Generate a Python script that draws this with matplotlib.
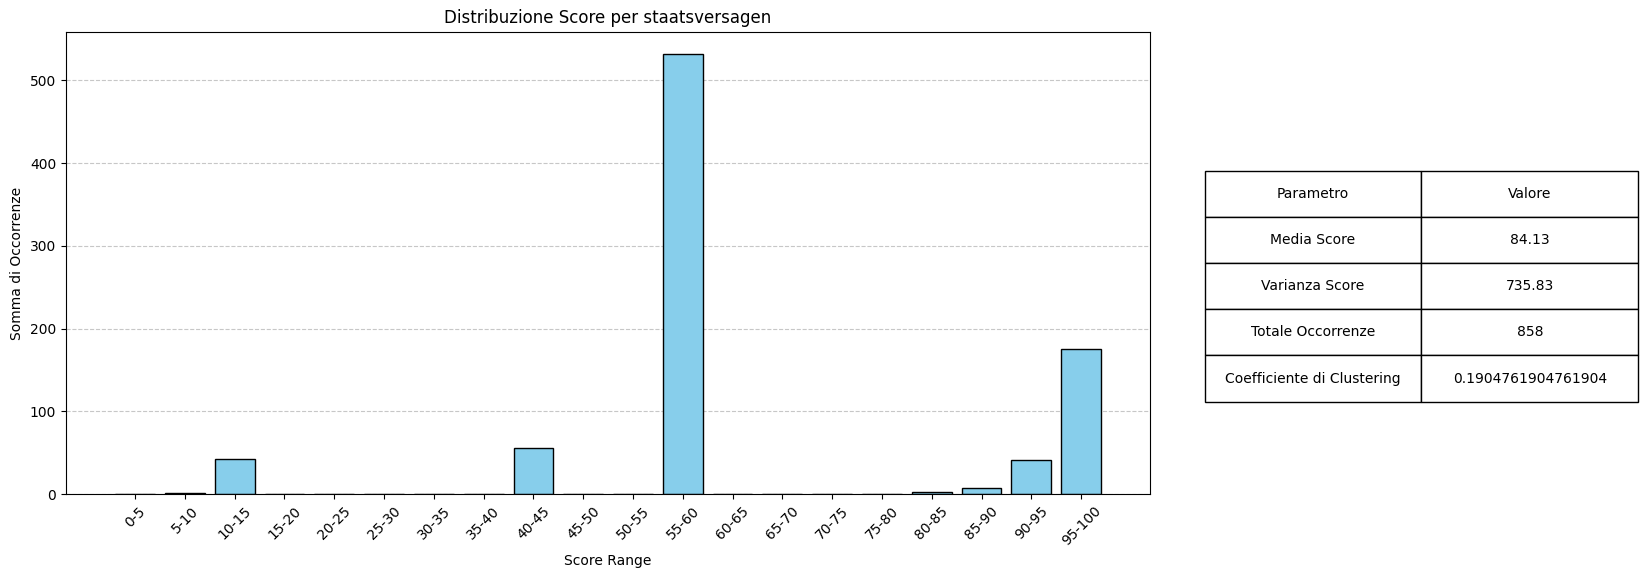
import numpy as np
import matplotlib
matplotlib.use('Agg')
from matplotlib import pyplot as plt

# score ranges and counts
ranges = ['0-5', '5-10', '10-15', '15-20', '20-25', '25-30', '30-35', '35-40',
          '40-45', '45-50', '50-55', '55-60', '60-65', '65-70', '70-75', '75-80',
          '80-85', '85-90', '90-95', '95-100']
counts = [0, 1, 43, 0, 0, 0, 0, 0, 56, 0, 0, 532, 0, 0, 0, 0, 3, 7, 41, 175]

# stats table
params = ['Media Score', 'Varianza Score', 'Totale Occorrenze', 'Coefficiente di Clustering']
values = ['84.13', '735.83', '858', '0.1904761904761904']


def plot():
  fig = plt.figure(figsize=(16.48, 5.78), dpi=100)
  ax = fig.add_axes([0.040, 0.145, 0.658, 0.80])
  ax.bar(ranges, counts, color='skyblue', edgecolor='black')
  ax.set_title('Distribuzione Score per staatsversagen')
  ax.set_xlabel('Score Range')
  ax.set_ylabel('Somma di Occorrenze')
  ax.tick_params(axis='x', rotation=45)
  ax.grid(axis='y', linestyle='--', alpha=0.7)
  ax.set_axisbelow(True)

  ax2 = fig.add_axes([0.731, 0.305, 0.263, 0.40])
  ax2.axis('off')
  rows = [[p, v] for p, v in zip(params, values)]
  tbl = ax2.table(cellText=rows, colLabels=['Parametro', 'Valore'],
                  cellLoc='center', loc='center', bbox=[0, 0, 1, 1])
  tbl.auto_set_font_size(False)
  tbl.set_fontsize(10)

  fig.savefig('out.png')


if __name__ == '__main__':
  plot()
